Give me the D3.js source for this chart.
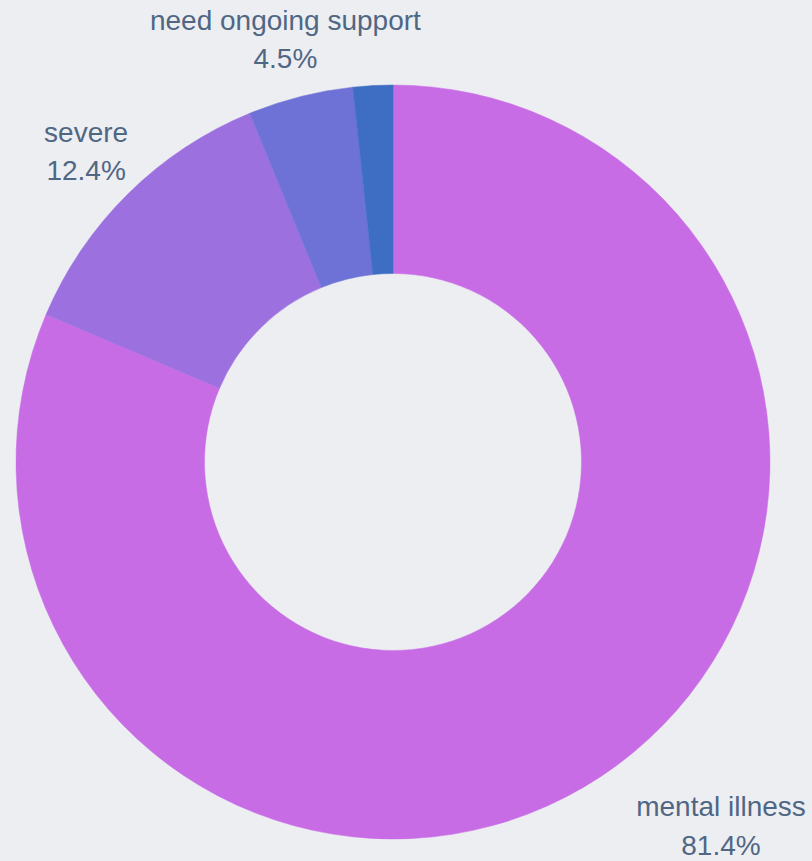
<!DOCTYPE html>
<html><head><meta charset="utf-8">
<script src="https://cdn.jsdelivr.net/npm/d3@7"></script>
<style>html,body{margin:0;padding:0;background:#edeef2;}svg{display:block;}</style>
</head><body>
<svg id="c" width="812" height="861"></svg>
<script>
// ---- data ----
const categories = ["mental illness", "severe", "need ongoing support", "other"];
const values = [81.4, 12.4, 4.5, 1.7];
const showLabel = [true, true, true, false];
const colors = ["#c86ce6", "#9d70e0", "#6e72d6", "#3e6ec3"];

// ---- layout ----
const W = 812, H = 861;
const cx = 393, cy = 462, R = 377, hole = 0.5;
const fontSize = 28, lineGap = 38.5;
// label nudges relative to slice mid-point on outer edge (x: centre of text, y: first baseline)
const labelNudge = {"mental illness": [120, 40], "severe": [-42, -52], "need ongoing support": [-15, -67]};

const svg = d3.select("#c");
svg.append("rect").attr("width", W).attr("height", H).attr("fill", "#edeef2");
const g = svg.append("g").attr("transform", `translate(${cx},${cy})`);

const data = categories.map((c, i) => ({name: c, value: values[i], color: colors[i], show: showLabel[i]}));
const pie = d3.pie().value(d => d.value).sort(null).startAngle(0).endAngle(2 * Math.PI);
const arc = d3.arc().innerRadius(R * hole).outerRadius(R);
const arcs = pie(data);

g.selectAll("path.slice").data(arcs).enter().append("path")
  .attr("class", "slice")
  .attr("d", arc)
  .attr("fill", d => d.data.color)
  .attr("stroke", d => d.data.color)
  .attr("stroke-width", 0.5);

const total = d3.sum(values);
const lab = g.selectAll("text.lab").data(arcs.filter(d => d.data.show)).enter().append("text")
  .attr("class", "lab")
  .attr("text-anchor", "middle")
  .attr("font-family", "'Liberation Sans', Arial, sans-serif")
  .attr("font-size", fontSize)
  .attr("fill", "#506784")
  .attr("transform", d => {
    const a = (d.startAngle + d.endAngle) / 2;
    const px = R * Math.sin(a), py = -R * Math.cos(a);
    const n = labelNudge[d.data.name] || [0, 0];
    return `translate(${px + n[0]},${py + n[1]})`;
  });
lab.append("tspan").attr("x", 0).attr("y", 0).text(d => d.data.name);
lab.append("tspan").attr("x", 0).attr("y", lineGap).text(d => (d.data.value / total * 100).toFixed(1) + "%");
</script>
</body></html>
